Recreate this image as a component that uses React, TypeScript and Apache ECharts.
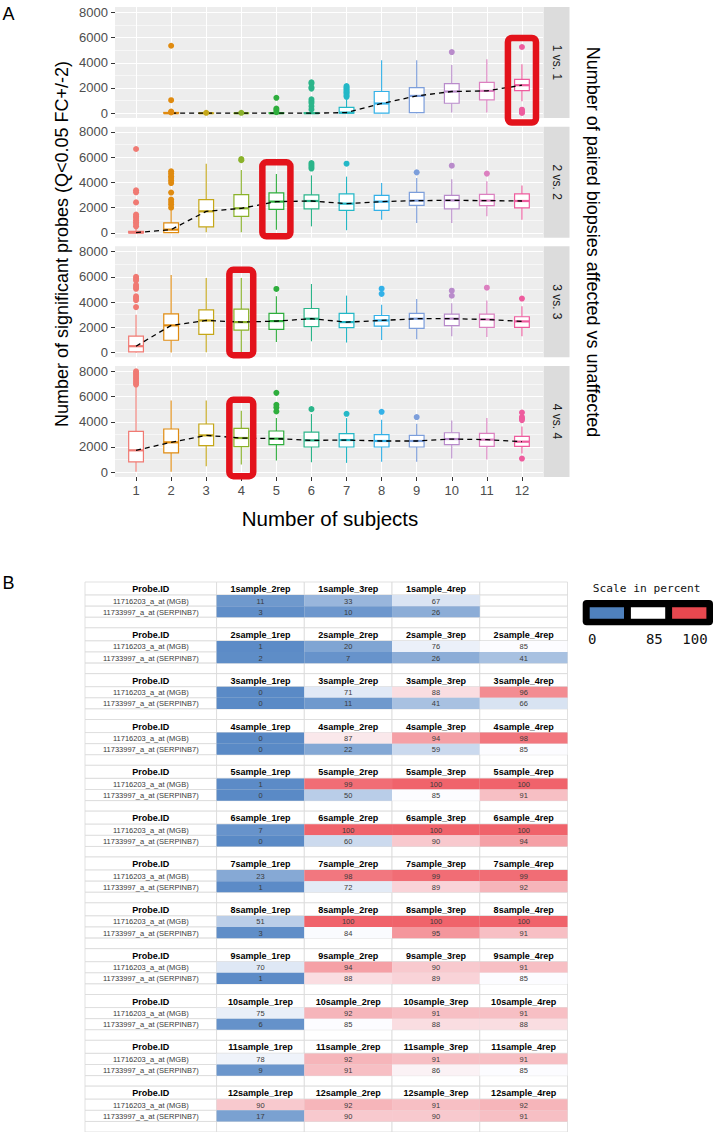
import React, { useEffect, useRef } from "react";
import * as echarts from "echarts";

// ---------------- Panel A data ----------------
const subjects = [1, 2, 3, 4, 5, 6, 7, 8, 9, 10, 11, 12];
const facetLabels = ["1 vs. 1", "2 vs. 2", "3 vs. 3", "4 vs. 4"];
const yTickValues = [0, 2000, 4000, 6000, 8000];
const yMinorValues = [1000, 3000, 5000, 7000];

// [lower whisker, Q1, median, Q3, upper whisker] per number of subjects (null = no box)
const box1vs1 = [
  null, [0, 0, 0, 60, 150], [0, 0, 0, 0, 0], [0, 0, 0, 0, 0], [0, 0, 0, 30, 80], [0, 0, 0, 30, 80],
  [0, 0, 50, 470, 1100], [0, 0, 770, 1720, 4200], [0, 50, 1370, 2030, 4200], [50, 790, 1720, 2350, 3830],
  [50, 1055, 1770, 2450, 4280], [950, 1795, 2220, 2690, 3880],
];
const box2vs2 = [
  [0, 0, 30, 120, 300], [0, 30, 260, 790, 1800], [50, 475, 1710, 2640, 5490], [50, 1315, 1950, 3030, 4990],
  [260, 1870, 2480, 3170, 4670], [520, 1900, 2530, 3010, 4560], [210, 1790, 2320, 3090, 4460],
  [1050, 1790, 2480, 2980, 3960], [790, 2190, 2560, 3220, 4355], [790, 1900, 2580, 2980, 4250],
  [1315, 2160, 2560, 3060, 4090], [1050, 1980, 2530, 3090, 3750],
];
const box3vs3 = [
  [0, 50, 500, 1300, 3000], [0, 970, 2150, 3070, 6140], [30, 1440, 2540, 3385, 5900], [30, 1780, 2410, 3435, 5900],
  [835, 1835, 2490, 3095, 4460], [890, 2045, 2680, 3490, 5430], [790, 1965, 2410, 3095, 4510],
  [990, 2095, 2540, 2935, 3780], [1050, 1915, 2680, 3095, 4250], [1285, 2125, 2680, 3040, 3905],
  [1230, 1990, 2620, 3040, 4120], [1285, 1990, 2465, 2835, 3670],
];
const box4vs4 = [
  [30, 820, 1735, 3235, 6800], [30, 1530, 2370, 3425, 5680], [475, 2105, 2920, 3820, 5680], [610, 2030, 2710, 3470, 4870],
  [925, 2185, 2660, 3265, 4290], [790, 2000, 2525, 3185, 4610], [740, 2000, 2550, 3055, 4290],
  [820, 2000, 2475, 2975, 4160], [820, 2000, 2475, 2920, 3840], [1080, 2185, 2630, 3130, 4105],
  [1000, 2050, 2580, 3080, 4290], [1475, 2050, 2420, 2840, 3630],
];
const out1vs1 = [
  [], [5350, 1030, 130, 60], [30], [30], [1220, 370, 250, 80], [2450, 2350, 2050, 1950, 1100, 950, 800, 550, 300],
  [2150, 2050, 1950, 1850, 1750, 1650, 1550, 1400, 1300], [], [], [4850], [], [5250, 280, 180, 80, 20],
];
const out2vs2 = [
  [6650, 3380, 3220, 2420, 1450, 1300, 1190, 1000, 850, 700, 520],
  [4880, 4700, 4500, 4350, 4150, 3950, 3200, 2650, 2450, 2250, 2000],
  [], [5860, 5760], [], [5540, 5400, 5250, 5100], [5490], [], [4800], [5330], [4700], [],
];
const out3vs3 = [
  [6000, 5850, 5700, 5350, 5200, 5050, 4450, 4300, 4150, 3600],
  [], [], [], [5040], [], [], [5060, 4650], [], [4900, 4500], [5140], [4275],
];
const out4vs4 = [
  [8000, 7850, 7700, 7550, 7400, 7250, 7100, 6950],
  [], [], [], [6290, 5340, 5130, 4815], [5000], [4630], [4790], [4370], [], [], [4735, 4370, 4250, 4130, 1080],
];
const boxesByFacet = [box1vs1, box2vs2, box3vs3, box4vs4];
const outliersByFacet = [out1vs1, out2vs2, out3vs3, out4vs4];

// highlighted boxes (red frames)
const highlightSubject = [12, 5, 4, 4];
const highlightTop = [5970, 5600, 6560, 5735];
const highlightBottom = [-745, -270, -210, -315];

// ---------------- Panel B data ----------------
const sampleCounts = [1, 2, 3, 4, 5, 6, 7, 8, 9, 10, 11, 12];
const repLabelsOneSample = ["2rep", "3rep", "4rep"];
const repLabelsDefault = ["1rep", "2rep", "3rep", "4rep"];
const probeNames = ["11716203_a_at (MGB)", "11733997_a_at (SERPINB7)"];
const mgbPercent = [
  [11, 33, 67], [1, 20, 76, 85], [0, 71, 88, 96], [0, 87, 94, 98], [1, 99, 100, 100], [7, 100, 100, 100],
  [23, 98, 99, 99], [51, 100, 100, 100], [70, 94, 90, 91], [75, 92, 91, 91], [78, 92, 91, 91], [90, 92, 91, 92],
];
const serpinb7Percent = [
  [3, 10, 26], [2, 7, 26, 41], [0, 11, 41, 66], [0, 22, 59, 85], [0, 50, 85, 91], [0, 60, 90, 94],
  [1, 72, 89, 92], [3, 84, 95, 91], [1, 88, 89, 85], [6, 85, 88, 88], [9, 91, 86, 85], [17, 90, 90, 91],
];
const scaleStops = [0, 85, 100];
const scaleLabels = ["0", "85", "100"];

// ---------------- styles / layout ----------------
const FONT = "Liberation Sans, Arial, sans-serif";
const GROUP_COLORS = [
  "#F07A73", "#E08B10", "#C5A718", "#8AB22A", "#2EAE3D", "#2BB58A",
  "#23B8C7", "#33B1E8", "#7C9EDB", "#B98BCB", "#DC80C0", "#EE5C9E",
];
const SCALE_RGB = [[90, 138, 198], [252, 252, 255], [240, 99, 107]];
const LEGEND_SWATCH = ["#4F81BD", "#FFFFFF", "#E8484F"];
const PANEL_LEFT = 115;
const PANEL_W = 428;
const PANEL_H = 111;
const PANEL_TOPS = [7, 126.7, 246.3, 366];
const STRIP_W = 26;
const X_MIN = 0.4, X_MAX = 12.6, Y_MIN = -380, Y_MAX = 8420;
const BOX_W = 0.42;
const TABLE_LEFT = 85, TABLE_TOP = 582, TABLE_W = 482.5, BLOCK_H = 46.6;
const COL_EDGES = [0, 1.5, 2.5, 3.5, 4.5, 5.5];
const ROW_OFFSETS = [0, 1.14, 2.11, 3.08, 4];

function lerp(a: number[], b: number[], t: number) {
  return a.map((v, i) => Math.round(v + (b[i] - v) * t));
}
function pctColor(v: number) {
  const [lo, mid, hi] = scaleStops;
  const c = v <= mid
    ? lerp(SCALE_RGB[0], SCALE_RGB[1], (v - lo) / (mid - lo))
    : lerp(SCALE_RGB[1], SCALE_RGB[2], (v - mid) / (hi - mid));
  return `rgb(${c.join(",")})`;
}

type Cell = { col: number; r0: number; r1: number; text: string; pct: number | null; kind: string };
function buildCells(): Cell[] {
  const cells: Cell[] = [];
  sampleCounts.forEach((n, b) => {
    const reps = n === 1 ? repLabelsOneSample : repLabelsDefault;
    const base = b * 4;
    const rows = (r: number) => [base + ROW_OFFSETS[r], base + ROW_OFFSETS[r + 1]];
    const [h0, h1] = rows(0);
    for (let c = 0; c < 5; c++) {
      const text = c === 0 ? "Probe.ID" : reps[c - 1] ? `${n}sample_${reps[c - 1]}` : "";
      cells.push({ col: c, r0: h0, r1: h1, text, pct: null, kind: "head" });
    }
    [mgbPercent[b], serpinb7Percent[b]].forEach((vals, p) => {
      const [a0, a1] = rows(p + 1);
      cells.push({ col: 0, r0: a0, r1: a1, text: probeNames[p], pct: null, kind: "probe" });
      for (let c = 1; c < 5; c++) {
        const v = vals[c - 1];
        cells.push({ col: c, r0: a0, r1: a1, text: v === undefined ? "" : String(v), pct: v === undefined ? null : v, kind: "val" });
      }
    });
    const [b0, b1] = rows(3);
    for (let c = 0; c < 5; c++) cells.push({ col: c, r0: b0, r1: b1, text: "", pct: null, kind: "blank" });
  });
  return cells;
}

function buildOption() {
  const grids: any[] = [];
  const xAxes: any[] = [];
  const yAxes: any[] = [];
  const series: any[] = [];
  const graphics: any[] = [];

  PANEL_TOPS.forEach((top, f) => {
    const last = f === PANEL_TOPS.length - 1;
    grids.push({
      left: PANEL_LEFT, top, width: PANEL_W, height: PANEL_H,
      show: true, backgroundColor: "#EDEDED", borderWidth: 0, containLabel: false,
    });
    xAxes.push({
      gridIndex: f, type: "value", min: X_MIN, max: X_MAX,
      axisLine: { show: false, onZero: false },
      axisTick: { show: last, customValues: subjects, length: 4, lineStyle: { color: "#333333", width: 1 } },
      axisLabel: { show: last, customValues: subjects, color: "#4D4D4D", fontSize: 13, fontFamily: FONT, margin: 7, formatter: (v: number) => String(v) },
      splitLine: { show: true, lineStyle: { color: "#FFFFFF", width: 1.1 } },
    });
    yAxes.push({
      gridIndex: f, type: "value", min: Y_MIN, max: Y_MAX, position: "left",
      axisLine: { show: false, onZero: false },
      axisTick: { show: true, customValues: yTickValues, length: 4, lineStyle: { color: "#333333", width: 1 } },
      axisLabel: { show: true, customValues: yTickValues, color: "#4D4D4D", fontSize: 13, fontFamily: FONT, margin: 7, formatter: (v: number) => String(v) },
      splitLine: { show: true, lineStyle: { color: "#FFFFFF", width: 1.1 } },
    });
    yAxes.push({
      gridIndex: f, type: "value", min: Y_MIN, max: Y_MAX, position: "left",
      axisLine: { show: false, onZero: false },
      axisTick: { show: false, customValues: yMinorValues },
      axisLabel: { show: false, customValues: yMinorValues },
      splitLine: { show: true, lineStyle: { color: "#FFFFFF", width: 0.55 } },
    });

    const boxes = boxesByFacet[f];
    const boxData: number[][] = [];
    const trend: number[][] = [];
    boxes.forEach((b, i) => {
      if (!b) return;
      boxData.push([subjects[i], ...b]);
      trend.push([subjects[i], b[2]]);
    });
    const outData: number[][] = [];
    outliersByFacet[f].forEach((arr, i) => arr.forEach((v) => outData.push([subjects[i], v])));

    series.push({
      type: "custom", xAxisIndex: f, yAxisIndex: f * 2, z: 2, silent: true,
      dimensions: ["x", "lo", "q1", "med", "q3", "hi"],
      encode: { x: "x", y: ["lo", "q1", "med", "q3", "hi"] },
      data: boxData,
      renderItem: (params: any, api: any) => {
        const x = api.value(0);
        const color = GROUP_COLORS[subjects.indexOf(x)];
        const pLo = api.coord([x, api.value(1)]);
        const pQ1 = api.coord([x, api.value(2)]);
        const pMed = api.coord([x, api.value(3)]);
        const pQ3 = api.coord([x, api.value(4)]);
        const pHi = api.coord([x, api.value(5)]);
        const hw = api.size([BOX_W, 0])[0] / 2;
        const cx = pMed[0];
        return {
          type: "group",
          children: [
            { type: "line", shape: { x1: cx, y1: pHi[1], x2: cx, y2: pQ3[1] }, style: { stroke: color, lineWidth: 1.1 } },
            { type: "line", shape: { x1: cx, y1: pQ1[1], x2: cx, y2: pLo[1] }, style: { stroke: color, lineWidth: 1.1 } },
            { type: "rect", shape: { x: cx - hw, y: pQ3[1], width: hw * 2, height: Math.max(pQ1[1] - pQ3[1], 0.01) }, style: { fill: "#FFFFFF", stroke: color, lineWidth: 1.2 } },
            { type: "line", shape: { x1: cx - hw, y1: pMed[1], x2: cx + hw, y2: pMed[1] }, style: { stroke: color, lineWidth: 2.2 } },
          ],
        };
      },
    });
    series.push({
      type: "line", xAxisIndex: f, yAxisIndex: f * 2, z: 3, silent: true,
      data: trend, symbol: "none",
      lineStyle: { color: "#000000", width: 1.3, type: [5, 4] },
    });
    series.push({
      type: "scatter", xAxisIndex: f, yAxisIndex: f * 2, z: 4, silent: true,
      data: outData, symbolSize: 6,
      itemStyle: { color: (p: any) => GROUP_COLORS[subjects.indexOf(p.data[0])], opacity: 1 },
    });
    const hwHighlight = f < 2 ? 0.4 : 0.34;
    series.push({
      type: "custom", xAxisIndex: f, yAxisIndex: f * 2, z: 6, silent: true, clip: false,
      data: [[highlightSubject[f], highlightTop[f], highlightBottom[f]]],
      renderItem: (params: any, api: any) => {
        const x = api.value(0);
        const p0 = api.coord([x - hwHighlight, api.value(1)]);
        const p1 = api.coord([x + hwHighlight, api.value(2)]);
        return {
          type: "rect",
          shape: { x: p0[0], y: p0[1], width: p1[0] - p0[0], height: p1[1] - p0[1], r: 4 },
          style: { fill: "none", stroke: "#E3121B", lineWidth: 6.5 },
        };
      },
    });

    // facet strip
    graphics.push({
      type: "rect", z: 1,
      shape: { x: PANEL_LEFT + PANEL_W + 0.5, y: top, width: STRIP_W, height: PANEL_H },
      style: { fill: "#DCDCDC" },
    });
    graphics.push({
      type: "text", z: 2,
      x: PANEL_LEFT + PANEL_W + 0.5 + STRIP_W / 2, y: top + PANEL_H / 2, rotation: -Math.PI / 2,
      style: {
        text: facetLabels[f], fill: "#1A1A1A", fontSize: 12, fontFamily: FONT,
        align: "center", verticalAlign: "middle", textAlign: "center", textVerticalAlign: "middle",
      },
    });
  });

  // ---------- table ----------
  const cells = buildCells();
  const tableGrid = grids.length;
  grids.push({ left: TABLE_LEFT, top: TABLE_TOP, width: TABLE_W, height: BLOCK_H * sampleCounts.length, show: false });
  const tX = xAxes.length;
  xAxes.push({ gridIndex: tableGrid, type: "value", min: COL_EDGES[0], max: COL_EDGES[COL_EDGES.length - 1], show: false });
  const tY = yAxes.length;
  yAxes.push({ gridIndex: tableGrid, type: "value", min: 0, max: sampleCounts.length * 4, inverse: true, show: false });
  const cellData = cells.map((c, i) => [COL_EDGES[c.col], c.r0, COL_EDGES[c.col + 1], c.r1, i]);

  series.push({
    type: "custom", xAxisIndex: tX, yAxisIndex: tY, z: 1, silent: true, clip: false,
    dimensions: ["x0", "y0", "x1", "y1", "idx"],
    encode: { x: ["x0", "x1"], y: ["y0", "y1"] },
    data: cellData,
    renderItem: (params: any, api: any) => {
      const a = api.coord([api.value(0), api.value(1)]);
      const b = api.coord([api.value(2), api.value(3)]);
      return {
        type: "rect",
        shape: { x: a[0], y: a[1], width: b[0] - a[0], height: b[1] - a[1] },
        style: { fill: "#FFFFFF", stroke: "#D9D9D9", lineWidth: 0.8 },
      };
    },
  });
  series.push({
    type: "custom", xAxisIndex: tX, yAxisIndex: tY, z: 2, silent: true, clip: false,
    dimensions: ["x0", "y0", "x1", "y1", "idx"],
    encode: { x: ["x0", "x1"], y: ["y0", "y1"] },
    data: cellData,
    renderItem: (params: any, api: any) => {
      const cell = cells[api.value(4)];
      const a = api.coord([api.value(0), api.value(1)]);
      const b = api.coord([api.value(2), api.value(3)]);
      const children: any[] = [];
      if (cell.pct !== null) {
        children.push({
          type: "rect",
          shape: { x: a[0], y: a[1], width: b[0] - a[0], height: b[1] - a[1] },
          style: { fill: pctColor(cell.pct), stroke: null },
        });
      }
      if (cell.text) {
        const head = cell.kind === "head";
        children.push({
          type: "text",
          x: (a[0] + b[0]) / 2, y: (a[1] + b[1]) / 2 + 0.5,
          style: {
            text: cell.text,
            fill: head ? "#000000" : "#3A3A3A",
            fontSize: head ? 9 : 7.5,
            fontWeight: head ? "bold" : "normal",
            fontFamily: FONT,
            align: "center", verticalAlign: "middle", textAlign: "center", textVerticalAlign: "middle",
          },
        });
      }
      return { type: "group", children };
    },
  });

  // ---------- titles ----------
  const txt = (text: string, x: number, y: number, size: number, extra: any = {}) => ({
    type: "text", x, y, z: 10, ...extra,
    style: {
      text, fill: "#000000", fontSize: size, fontFamily: FONT,
      align: extra.align || "center", verticalAlign: "middle",
      textAlign: extra.align || "center", textVerticalAlign: "middle",
      ...(extra.style || {}),
    },
  });
  const panelMid = (PANEL_TOPS[0] + PANEL_TOPS[3] + PANEL_H) / 2;
  graphics.push(txt("A", 2.5, 14, 18, { align: "left" }));
  graphics.push(txt("B", 2.5, 583, 18, { align: "left" }));
  graphics.push(txt("Number of significant probes (Q<0.05 FC+/-2)", 62, panelMid + 2, 18, { rotation: Math.PI / 2 }));
  graphics.push(txt("Number of paired biopsies affected vs unaffected", 593, panelMid, 18, { rotation: -Math.PI / 2 }));
  graphics.push(txt("Number of subjects", PANEL_LEFT + PANEL_W / 2 + 1, 518, 20.5));

  // ---------- legend ----------
  const LX = 582.7, LY = 600;
  graphics.push({ type: "rect", z: 10, shape: { x: LX, y: LY, width: 130.3, height: 25.3, r: 4 }, style: { fill: "#000000" } });
  LEGEND_SWATCH.forEach((c, i) => {
    graphics.push({ type: "rect", z: 11, shape: { x: LX + 7 + i * 41.2, y: LY + 7.3, width: 34.3, height: 11.4 }, style: { fill: c } });
  });
  graphics.push({
    type: "text", z: 11, x: 646.7, y: 588.3,
    style: { text: "Scale in percent", fill: "#111111", fontSize: 11.2, fontFamily: "DejaVu Sans Mono", align: "center", verticalAlign: "middle", textAlign: "center", textVerticalAlign: "middle" },
  });
  const legendLabelX = [592.3, 654.3, 695];
  scaleLabels.forEach((l, i) => {
    graphics.push({
      type: "text", z: 11, x: legendLabelX[i], y: 639,
      style: { text: l, fill: "#111111", fontSize: 14, fontFamily: "DejaVu Sans Mono", align: "center", verticalAlign: "middle", textAlign: "center", textVerticalAlign: "middle" },
    });
  });

  return {
    animation: false,
    backgroundColor: "#FFFFFF",
    grid: grids,
    xAxis: xAxes,
    yAxis: yAxes,
    series,
    graphic: { elements: graphics },
  };
}

export default function App() {
  const ref = useRef<HTMLDivElement>(null);
  useEffect(() => {
    document.body.style.margin = "0";
    if (!ref.current) return;
    const chart = echarts.init(ref.current, undefined, { renderer: "svg" });
    chart.setOption(buildOption() as any);
    return () => chart.dispose();
  }, []);
  return <div ref={ref} style={{ width: 714, height: 1132 }} />;
}
